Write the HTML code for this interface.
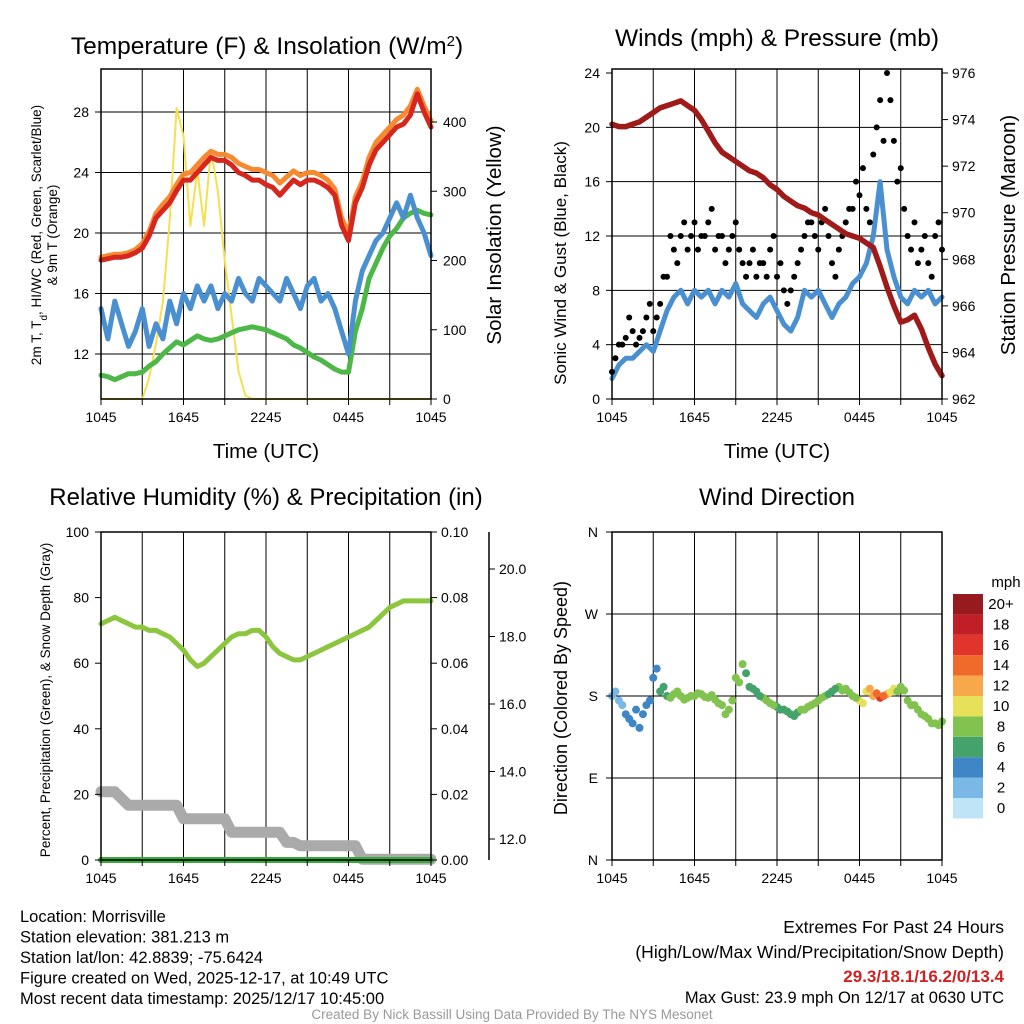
<!DOCTYPE html>
<html><head><meta charset="utf-8"><style>
body{margin:0;background:#fff;}
svg{display:block;font-family:"Liberation Sans",sans-serif;}
</style></head><body>
<svg id="c" width="1024" height="1024" viewBox="0 0 1024 1024"></svg>
<script>
const hours = ["1045","1645","2245","0445","1045"];
const tempT = [18.2,18.3,18.4,18.4,18.5,18.7,19.0,19.8,21.0,21.5,22.0,22.8,23.5,23.5,24.0,24.5,25.0,24.8,24.8,24.5,24.0,23.8,23.5,23.5,23.2,23.0,22.5,23.0,23.5,23.2,23.5,23.5,23.3,23.0,22.5,20.5,19.5,22.0,23.0,24.5,25.5,26.0,26.5,27.0,27.2,27.8,29.2,28.0,27.0];
const temp9m = [18.4,18.5,18.6,18.6,18.7,18.9,19.3,20.1,21.3,21.9,22.4,23.2,23.9,24.0,24.5,25.0,25.4,25.2,25.2,25.0,24.6,24.4,24.2,24.2,24.0,23.8,23.3,23.7,24.1,23.8,24.0,24.0,23.8,23.5,22.9,21.0,20.0,22.4,23.4,25.0,26.0,26.5,27.0,27.5,27.8,28.4,29.5,28.4,27.4];
const windChill = [15.0,13.0,15.5,14.0,12.5,13.5,15.0,12.5,14.0,13.0,15.5,14.0,16.0,15.0,16.5,15.5,16.5,15.0,16.0,15.5,17.0,16.0,15.5,17.0,16.5,16.0,15.5,17.0,16.0,15.0,16.5,17.0,15.5,16.0,15.0,13.5,12.0,15.5,17.5,18.5,19.5,20.0,21.0,22.0,21.0,22.5,21.0,20.0,18.5];
const dewpt = [10.6,10.5,10.3,10.5,10.7,10.7,10.8,11.2,11.5,12.0,12.4,12.8,12.6,12.9,13.2,13.0,12.9,13.0,13.2,13.4,13.6,13.7,13.8,13.7,13.6,13.4,13.2,13.0,12.6,12.4,12.1,11.8,11.6,11.3,11.0,10.8,10.8,13.5,15.0,17.0,18.0,19.0,19.8,20.3,21.0,21.3,21.5,21.3,21.2];
const insol = [0,0,0,0,0,0,0,30,80,140,260,420,380,250,330,250,360,300,200,120,40,5,0,0,0,0,0,0,0,0,0,0,0,0,0,0,0,0,0,0,0,0,0,0,0,0,0,0,0];
const sonic = [1.5,2.5,3,3,3.5,4,3.5,5,6.5,7.5,8,7,8,7.5,8,7,8,7.5,8.5,7,6.5,6,7,7.5,6.5,5.5,5,6,8,7.5,8,7,6,7,7.5,8.5,9,10,12,16,11,9,7.5,7,8,7.5,8,7,7.5];
const gust = [2,4,4.5,5,4.5,6,5,7,9,11,12,11,13,12,13,11,12,11,13,10,10,9,10,11,9,8,8,10,12,13,11,14,10,11,13,14,15,14,18,22,24,19,17,12,13,11,10,12,11];
const gust2 = [3,4,6,4,5,7,6,9,12,10,13,12,11,12,14,12,10,12,11,9,11,10,9,12,10,7,9,11,13,12,13,12,9,12,14,16,17,13,20,19,22,16,14,11,10,12,9,13,12];
const pressure = [973.8,973.7,973.7,973.8,973.9,974.1,974.3,974.5,974.6,974.7,974.8,974.6,974.4,974.0,973.5,973.0,972.6,972.4,972.2,972.0,971.8,971.7,971.5,971.2,971.0,970.7,970.5,970.3,970.2,970.0,969.9,969.7,969.5,969.3,969.1,969.0,968.9,968.7,968.5,967.7,966.8,966.0,965.3,965.4,965.6,965.0,964.2,963.5,963.0];
const rh = [72,73,74,73,72,71,71,70,70,69,68,66,64,61,59,60,62,64,66,68,69,69,70,70,68,65,63,62,61,61,62,63,64,65,66,67,68,69,70,71,73,75,77,78,79,79,79,79,79];
const precip = [0,0,0,0,0,0,0,0,0,0,0,0,0,0,0,0,0,0,0,0,0,0,0,0,0,0,0,0,0,0,0,0,0,0,0,0,0,0,0,0,0,0,0,0,0,0,0,0,0];
const snow = [13.4,13.4,13.4,13.2,13.0,13.0,13.0,13.0,13.0,13.0,13.0,13.0,12.6,12.6,12.6,12.6,12.6,12.6,12.6,12.2,12.2,12.2,12.2,12.2,12.2,12.2,12.2,11.9,11.9,11.8,11.8,11.8,11.8,11.8,11.8,11.8,11.8,11.8,11.4,11.4,11.4,11.4,11.4,11.4,11.4,11.4,11.4,11.4,11.4];
const direction = [180,175,160,150,145,170,200,185,180,182,180,178,180,182,178,176,170,165,200,215,190,185,178,172,168,165,160,162,165,170,175,180,185,190,188,180,175,185,180,178,182,188,190,175,170,160,155,150,152];
const direction2 = [185,170,155,165,160,175,210,190,178,185,176,180,183,179,181,172,160,175,195,205,188,180,175,170,165,163,158,165,168,172,178,182,188,186,184,178,172,188,183,180,184,185,186,170,165,158,150,148,150];
const speedColors = ["#bfe3f7","#7ab9e5","#3f86c6","#44a36a","#82c34f","#e6e05a","#f7a84a","#f06a2c","#e0352a","#c01f27","#961a1e"];
const speedLabels = ["0","2","4","6","8","10","12","14","16","18","20+"];

const S = document.getElementById('c');
const NS = "http://www.w3.org/2000/svg";
function el(tag, attrs, parent){const e=document.createElementNS(NS,tag);for(const k in attrs)e.setAttribute(k,attrs[k]);(parent||S).appendChild(e);return e;}
function txt(x,y,s,size,anchor,name,extra){const t=el('text',Object.assign({x:x,y:y,'font-size':size,'text-anchor':anchor||'middle',fill:'#000'},extra||{}));t.textContent=s;return t;}
function lin(d0,d1,r0,r1){return v=>r0+(v-d0)/(d1-d0)*(r1-r0);}

function panel(name){
  const g=el('g',{});
  
  
  return g;
}
function frame(g,x0,x1,y0,y1,hy){
  for(let i=1;i<8;i++){const x=x0+(x1-x0)*i/8;el('line',{x1:x,x2:x,y1:y0,y2:y1,stroke:'#000','stroke-width':1},g);}
  hy.forEach(y=>el('line',{x1:x0,x2:x1,y1:y,y2:y,stroke:'#000','stroke-width':1},g));
}
function border(g,x0,x1,y0,y1){el('rect',{x:x0,y:y0,width:x1-x0,height:y1-y0,fill:'none',stroke:'#000','stroke-width':1.5},g);}
function xticks(g,x0,x1,y1){
  for(let i=0;i<=8;i++){const x=x0+(x1-x0)*i/8;el('line',{x1:x,x2:x,y1:y1,y2:y1+6,stroke:'#000'},g);}
  hours.forEach((h,i)=>{txt(x0+(x1-x0)*i/4,y1+23,h,14,'middle','x-tick-label');});
}
function path(g,xs,arr,fy,color,w,name){
  let d='';arr.forEach((v,i)=>{d+=(i?'L':'M')+xs(i).toFixed(1)+','+fy(v).toFixed(1);});
  const p=el('path',{d:d,fill:'none',stroke:color,'stroke-width':w,'stroke-linejoin':'round','stroke-linecap':'round'},g);
  return p;
}

// ---------- Panel 1 ----------
{
 const x0=101,x1=431,y0=69,y1=399;
 const g=panel('temperature-panel');
 const fy=lin(12,28,354,112), fi=lin(0,400,399,122), fx=i=>x0+(x1-x0)*i/48;
 frame(g,x0,x1,y0,y1,[12,16,20,24,28].map(fy));
 path(g,fx,insol,fi,'#f5e050',2,'insolation-line');
 path(g,fx,dewpt,fy,'#4db848',5,'dewpoint-line');
 path(g,fx,windChill,fy,'#4a90d0',5,'windchill-line');
 path(g,fx,temp9m,fy,'#f58a30',5,'temp-9m-line');
 path(g,fx,tempT,fy,'#d7261e',5,'temp-2m-line');
 border(g,x0,x1,y0,y1);
 [12,16,20,24,28].forEach(v=>{el('line',{x1:x0-6,x2:x0,y1:fy(v),y2:fy(v),stroke:'#000'},g);txt(x0-12,fy(v)+5,String(v),14,'end','y-tick-label');});
 [0,100,200,300,400].forEach(v=>{el('line',{x1:x1,x2:x1+6,y1:fi(v),y2:fi(v),stroke:'#000'},g);txt(x1+12,fi(v)+5,String(v),14,'start','y2-tick-label');});
 xticks(g,x0,x1,y1);
 const t=txt(267,54,'Temperature (F) & Insolation (W/m',24.5,'middle','chart-title-temperature');
 const sp=el('tspan',{'baseline-shift':'super','font-size':15},t);sp.textContent='2';
 const sp2=el('tspan',{},t);sp2.textContent=')';
 txt(266,458,'Time (UTC)',20.5,'middle','x-axis-title');
 txt(501,235,'Solar Insolation (Yellow)',20.5,'middle','y2-axis-title',{transform:'rotate(-90 501 235)'});
 const a=txt(41,235,'2m T, T',13.5,'middle','y-axis-title',{transform:'rotate(-90 41 235)'});
 const s1=el('tspan',{'baseline-shift':'sub','font-size':10},a);s1.textContent='d';
 const s2=el('tspan',{},a);s2.textContent=', HI/WC (Red, Green, Scarlet/Blue)';
 txt(57,235,'& 9m T (Orange)',13.5,'middle','y-axis-title-line2',{transform:'rotate(-90 57 235)'});
}
// ---------- Panel 2 ----------
{
 const x0=612,x1=942,y0=69,y1=399;
 const g=panel('winds-panel');
 const fy=lin(0,24,399,73), fp=lin(962,976,399,73), fx=i=>x0+(x1-x0)*i/48;
 frame(g,x0,x1,y0,y1,[4,8,12,16,20].map(fy));
 path(g,fx,sonic,fy,'#4a90d0',5,'sonic-wind-line');
 gust.forEach((v,i)=>{const c=el('circle',{cx:fx(i),cy:fy(v),r:3,fill:'#000'},g);});
 gust2.forEach((v,i)=>{if(i<48){const c=el('circle',{cx:fx(i+0.5),cy:fy(v),r:3,fill:'#000'},g);}});
 path(g,fx,pressure,fp,'#a01a1a',5.5,'pressure-line');
 border(g,x0,x1,y0,y1);
 [0,4,8,12,16,20,24].forEach(v=>{el('line',{x1:x0-6,x2:x0,y1:fy(v),y2:fy(v),stroke:'#000'},g);txt(x0-12,fy(v)+5,String(v),14,'end','y-tick-label');});
 [962,964,966,968,970,972,974,976].forEach(v=>{el('line',{x1:x1,x2:x1+6,y1:fp(v),y2:fp(v),stroke:'#000'},g);txt(x1+10,fp(v)+5,String(v),14,'start','y2-tick-label');});
 xticks(g,x0,x1,y1);
 txt(777,46,'Winds (mph) & Pressure (mb)',24.5,'middle','chart-title-winds');
 txt(777,458,'Time (UTC)',20.5,'middle','x-axis-title');
 txt(566,263,'Sonic Wind & Gust (Blue, Black)',17,'middle','y-axis-title',{transform:'rotate(-90 566 263)'});
 txt(1015,235,'Station Pressure (Maroon)',20.5,'middle','y2-axis-title',{transform:'rotate(-90 1015 235)'});
}
// ---------- Panel 3 ----------
{
 const x0=101,x1=431,y0=532,y1=860;
 const g=panel('humidity-panel');
 const fy=lin(0,100,860,532), fpr=lin(0,0.1,860,532), fs=lin(12,20,839,569), fx=i=>x0+(x1-x0)*i/48;
 frame(g,x0,x1,y0,y1,[]);
 let d='';snow.forEach((v,i)=>{d+=(i?'L':'M')+fx(i).toFixed(1)+','+fs(v).toFixed(1);});
 const sp=el('path',{d:d,fill:'none',stroke:'#aaa','stroke-width':11,'stroke-linejoin':'round','stroke-linecap':'round'},g);
 
 path(g,fx,precip,fpr,'#3aa83a',6,'precip-line');
 path(g,fx,rh,fy,'#8cc63f',5,'rh-line');
 border(g,x0,x1,y0,y1);
 [0,20,40,60,80,100].forEach(v=>{el('line',{x1:x0-6,x2:x0,y1:fy(v),y2:fy(v),stroke:'#000'},g);txt(x0-12,fy(v)+5,String(v),14,'end','y-tick-label');});
 ['0.00','0.02','0.04','0.06','0.08','0.10'].forEach(v=>{const y=fpr(+v);el('line',{x1:x1,x2:x1+6,y1:y,y2:y,stroke:'#000'},g);txt(x1+10,y+5,v,14,'start','y2-tick-label');});
 el('line',{x1:489,x2:489,y1:532,y2:860,stroke:'#000','stroke-width':1.5},g);
 ['12.0','14.0','16.0','18.0','20.0'].forEach(v=>{const y=fs(+v);el('line',{x1:489,x2:495,y1:y,y2:y,stroke:'#000'},g);txt(499,y+5,v,14,'start','y3-tick-label');});
 xticks(g,x0,x1,y1);
 txt(266,505,'Relative Humidity (%) & Precipitation (in)',24,'middle','chart-title-humidity');
 txt(50,700,'Percent, Precipitation (Green), & Snow Depth (Gray)',13.5,'middle','y-axis-title',{transform:'rotate(-90 50 700)'});
}
// ---------- Panel 4 ----------
{
 const x0=612,x1=942,y0=532,y1=860;
 const g=panel('wind-direction-panel');
 const fy=lin(0,360,860,532), fx=i=>x0+(x1-x0)*i/48;
 frame(g,x0,x1,y0,y1,[90,180,270].map(fy));
 function col(s){let k=Math.min(10,Math.max(0,Math.round(s/2)));return speedColors[k];}
 direction.forEach((v,i)=>{const c=el('circle',{cx:fx(i),cy:fy(v),r:4,fill:col(sonic[i])},g);});
 direction2.forEach((v,i)=>{if(i<48){const c=el('circle',{cx:fx(i+0.5),cy:fy(v),r:4,fill:col((sonic[i]+sonic[i+1])/2)},g);}});
 border(g,x0,x1,y0,y1);
 ['N','E','S','W','N'].forEach((s,i)=>{const y=fy(i*90);el('line',{x1:x0-6,x2:x0,y1:y,y2:y,stroke:'#000'},g);txt(x0-14,y+5,s,14,'end','y-tick-label');});
 xticks(g,x0,x1,y1);
 txt(777,505,'Wind Direction',24,'middle','chart-title-direction');
 txt(567,698,'Direction (Colored By Speed)',18,'middle','y-axis-title',{transform:'rotate(-90 567 698)'});
 speedColors.forEach((c,k)=>{const y=594+(10-k)*20.4;const r=el('rect',{x:953,y:y,width:30,height:20.4,fill:c},g);txt(1001,y+15,speedLabels[k],15,'middle','colorbar-label');});
 txt(1006,587,'mph',15,'middle','colorbar-title');
}
// ---------- Footer ----------
const info=["Location: Morrisville","Station elevation: 381.213 m","Station lat/lon: 42.8839; -75.6424","Figure created on Wed, 2025-12-17, at 10:49 UTC","Most recent data timestamp: 2025/12/17 10:45:00"];
info.forEach((s,i)=>txt(20,922+i*20.5,s,16.5,'start','station-info-line'));
txt(1004,933,'Extremes For Past 24 Hours',17.5,'end','extremes-title');
txt(1004,958,'(High/Low/Max Wind/Precipitation/Snow Depth)',17.5,'end','extremes-subtitle');
txt(1004,982,'29.3/18.1/16.2/0/13.4',17,'end','extremes-values',{fill:'#d02020','font-weight':'bold'});
txt(1004,1003,'Max Gust: 23.9 mph On 12/17 at 0630 UTC',16.5,'end','max-gust');
txt(512,1019,'Created By Nick Bassill Using Data Provided By The NYS Mesonet',13.5,'middle','credit',{fill:'#999'});
</script>
</body></html>
